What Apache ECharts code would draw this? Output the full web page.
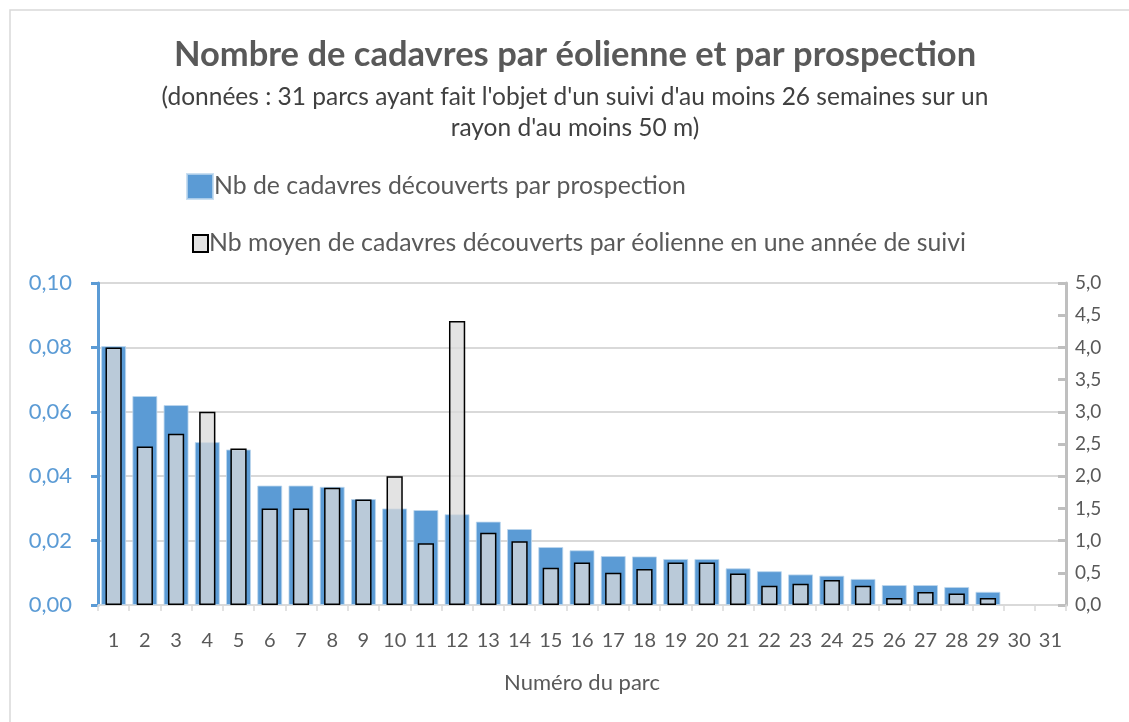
<!DOCTYPE html>
<html><head><meta charset="utf-8">
<script src="https://cdn.jsdelivr.net/npm/echarts@6/dist/echarts.min.js"></script>
<style>html,body{margin:0;padding:0;background:#fff}#c{width:1129px;height:722px}</style>
</head><body><div id="c"></div>
<script>
const categories = ['1','2','3','4','5','6','7','8','9','10','11','12','13','14','15','16','17','18','19','20','21','22','23','24','25','26','27','28','29','30','31'];
const perProspection = [0.0804,0.0649,0.0621,0.0506,0.0483,0.0371,0.0371,0.0367,0.0329,0.0300,0.0295,0.0282,0.0259,0.0236,0.0180,0.0170,0.0152,0.0151,0.0143,0.0143,0.0114,0.0105,0.0095,0.0091,0.0081,0.0062,0.0062,0.0056,0.0041,null,null];
const perTurbineYear = [4.0,2.46,2.66,3.0,2.43,1.5,1.5,1.82,1.64,2.0,0.96,4.41,1.12,0.99,0.58,0.66,0.5,0.56,0.66,0.66,0.49,0.3,0.33,0.39,0.3,0.11,0.2,0.18,0.11,null,null];
const seriesNames = ['Nb de cadavres découverts par prospection','Nb moyen de cadavres découverts par éolienne en une année de suivi'];
const titleText = 'Nombre de cadavres par éolienne et par prospection';
const subtitleText = "(données : 31 parcs ayant fait l'objet d'un suivi d'au moins 26 semaines sur un\nrayon d'au moins 50 m)";
const xAxisName = 'Numéro du parc';

const FONT = 'Lato';
const chart = echarts.init(document.getElementById('c'));
chart.setOption({
  animation: false,
  textStyle: {fontFamily: FONT},
  graphic: [{type:'rect', shape:{x:10,y:10,width:1200,height:800}, style:{fill:'none', stroke:'#D9D9D9', lineWidth:1.5}, z:-1}],
  title: [
    {text: titleText, left: 575, textAlign: 'center', top: 37, padding: 0,
     textStyle:{fontFamily:FONT, fontSize:34.5, fontWeight:'bold', color:'#595959'}},
    {text: subtitleText, left: 575, textAlign: 'center', top: 82, padding: 0,
     textStyle:{fontFamily:FONT, fontSize:24.5, fontWeight:'normal', color:'#404040', lineHeight:31, align:'center'}}
  ],
  legend: [
    {data:[seriesNames[0]], left:186, top:173, padding:0, itemWidth:26, itemHeight:25, itemGap:4, icon:'rect',
     textStyle:{fontFamily:FONT, fontSize:24.8, color:'#595959', padding:[0,0,0,-4]}},
    {data:[seriesNames[1]], left:192, top:231, padding:0, itemWidth:15, itemHeight:17, itemGap:4, icon:'rect',
     textStyle:{fontFamily:FONT, fontSize:24.8, color:'#595959', padding:[0,0,0,-4]}}
  ],
  grid: {left:98, right:63, top:283, bottom:117},
  xAxis: [
    {type:'category', data:categories, boundaryGap:true,
     axisLine:{lineStyle:{color:'#D9D9D9', width:2}},
     axisTick:{show:true, alignWithLabel:false, length:6, lineStyle:{color:'#D9D9D9', width:1.5}},
     axisLabel:{fontFamily:FONT, fontSize:20, color:'#595959', margin:26},
     name:xAxisName, nameLocation:'middle', nameGap:67,
     nameTextStyle:{fontFamily:FONT, fontSize:22, color:'#595959'}},
    {type:'category', data:categories, show:false, boundaryGap:true}
  ],
  yAxis: [
    {type:'value', min:0, max:0.1, interval:0.02, position:'left',
     axisLine:{show:true, lineStyle:{color:'#5B9BD5', width:3}},
     axisTick:{show:true, length:7, lineStyle:{color:'#5B9BD5', width:3}},
     axisLabel:{fontFamily:FONT, fontSize:22, color:'#5B9BD5', margin:26,
       formatter: v => v.toFixed(2).replace('.', ',')},
     splitLine:{show:true, lineStyle:{color:'#D9D9D9', width:2}}},
    {type:'value', min:0, max:5, interval:0.5, position:'right',
     axisLine:{show:true, lineStyle:{color:'#BFBFBF', width:3}},
     axisTick:{show:true, inside:true, length:8, lineStyle:{color:'#BFBFBF', width:3}},
     axisLabel:{fontFamily:FONT, fontSize:19, color:'#595959', margin:9,
       formatter: v => v.toFixed(1).replace('.', ',')},
     splitLine:{show:false}}
  ],
  series: [
    {name:seriesNames[0], type:'bar', xAxisIndex:0, yAxisIndex:0, data:perProspection,
     barWidth:'80%', itemStyle:{color:'#5B9BD5', borderColor:'rgba(189,215,238,0.8)', borderWidth:1}, z:2},
    {name:seriesNames[1], type:'bar', xAxisIndex:1, yAxisIndex:1, data:perTurbineYear,
     barWidth:'52%', itemStyle:{color:'rgba(217,217,217,0.75)', borderColor:'#000', borderWidth:1.5}, z:3}
  ]
});
</script></body></html>
